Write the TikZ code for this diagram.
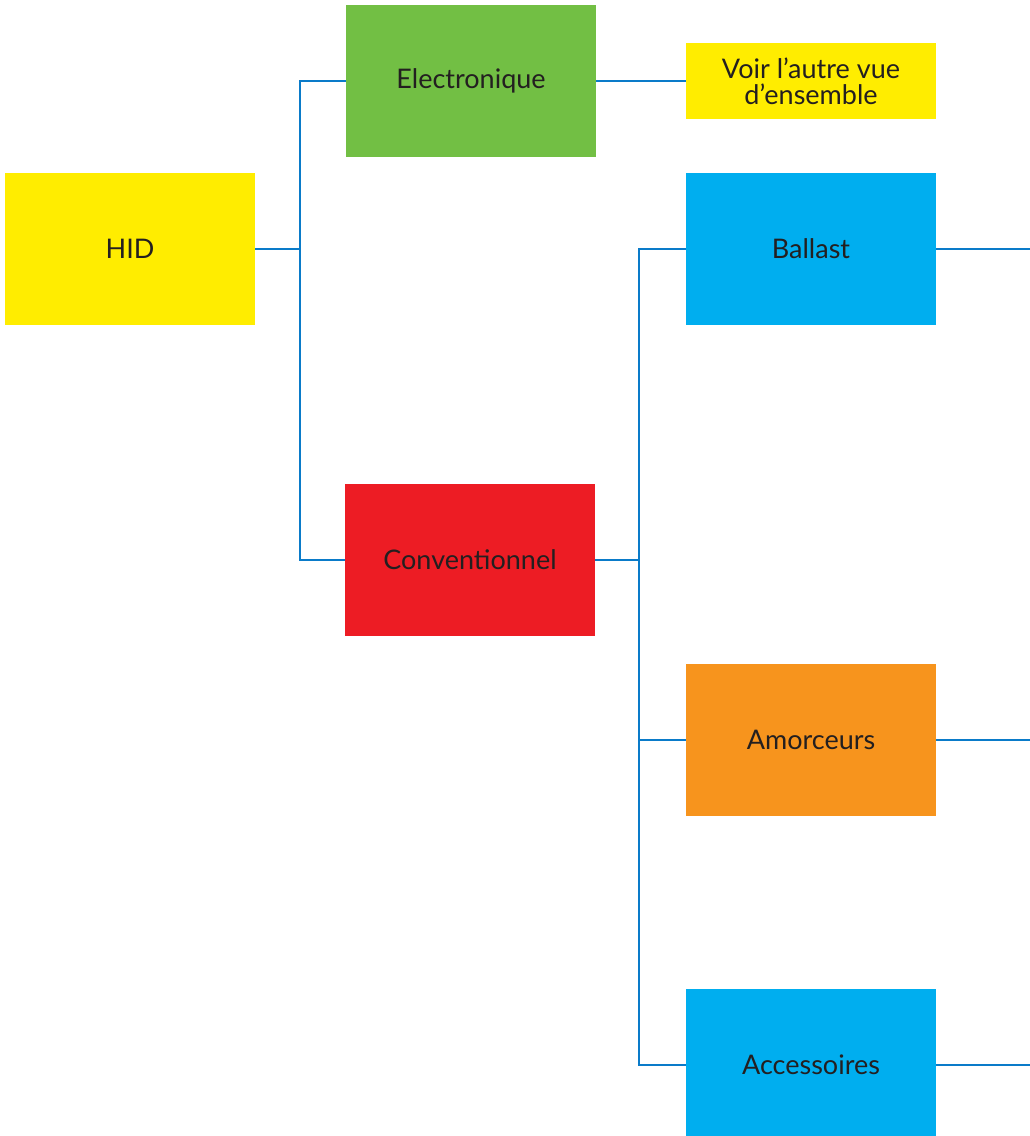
\documentclass[tikz,border=0pt]{standalone}
\usepackage{fontspec}
\setmainfont{Lato}
\definecolor{hyellow}{HTML}{FFED00}
\definecolor{hgreen}{HTML}{72BF44}
\definecolor{hblue}{HTML}{00AEEF}
\definecolor{hred}{HTML}{ED1C24}
\definecolor{horange}{HTML}{F7941D}
\definecolor{hline}{HTML}{0A7BC9}
\definecolor{htext}{HTML}{231F20}
\begin{document}
\begin{tikzpicture}[x=1pt,y=-1pt,
  box/.style={rectangle, inner sep=0pt, minimum width=250pt, minimum height=152pt,
    text=htext, font=\fontsize{27}{26}\selectfont, align=center},
  conn/.style={draw=hline, line width=2.2pt}]
\useasboundingbox (0,0) rectangle (1030,1136);
\clip (0,0) rectangle (1030,1136);
\fill[white] (0,0) rectangle (1030,1136);
\node[box, fill=hyellow] (hid) at (130,249) {HID};
\node[box, fill=hgreen] (elec) at (471,81) {Electronique};
\node[box, fill=hyellow, minimum height=76pt] (voir) at (811,81) {Voir l’autre vue\\d’ensemble};
\node[box, fill=hred] (conv) at (470,560) {Conventionnel};
\node[box, fill=hblue] (ball) at (811,249) {Ballast};
\node[box, fill=horange] (amor) at (811,740) {Amorceurs};
\node[box, fill=hblue] (acc) at (811,1065) {Accessoires};
\coordinate (j1) at (300,249);
\coordinate (j2) at (639,560);
\coordinate (eb) at (1030,249);
\coordinate (ea) at (1030,740);
\coordinate (ec) at (1030,1065);
\draw[conn] (hid.east) -- (j1);
\draw[conn] (j1) |- (elec.west);
\draw[conn] (j1) |- (conv.west);
\draw[conn] (elec.east) -- (voir.west);
\draw[conn] (conv.east) -- (j2);
\draw[conn] (j2) |- (ball.west);
\draw[conn] (j2) |- (amor.west);
\draw[conn] (j2) |- (acc.west);
\draw[conn] (ball.east) -- (eb);
\draw[conn] (amor.east) -- (ea);
\draw[conn] (acc.east) -- (ec);
\end{tikzpicture}
\end{document}
